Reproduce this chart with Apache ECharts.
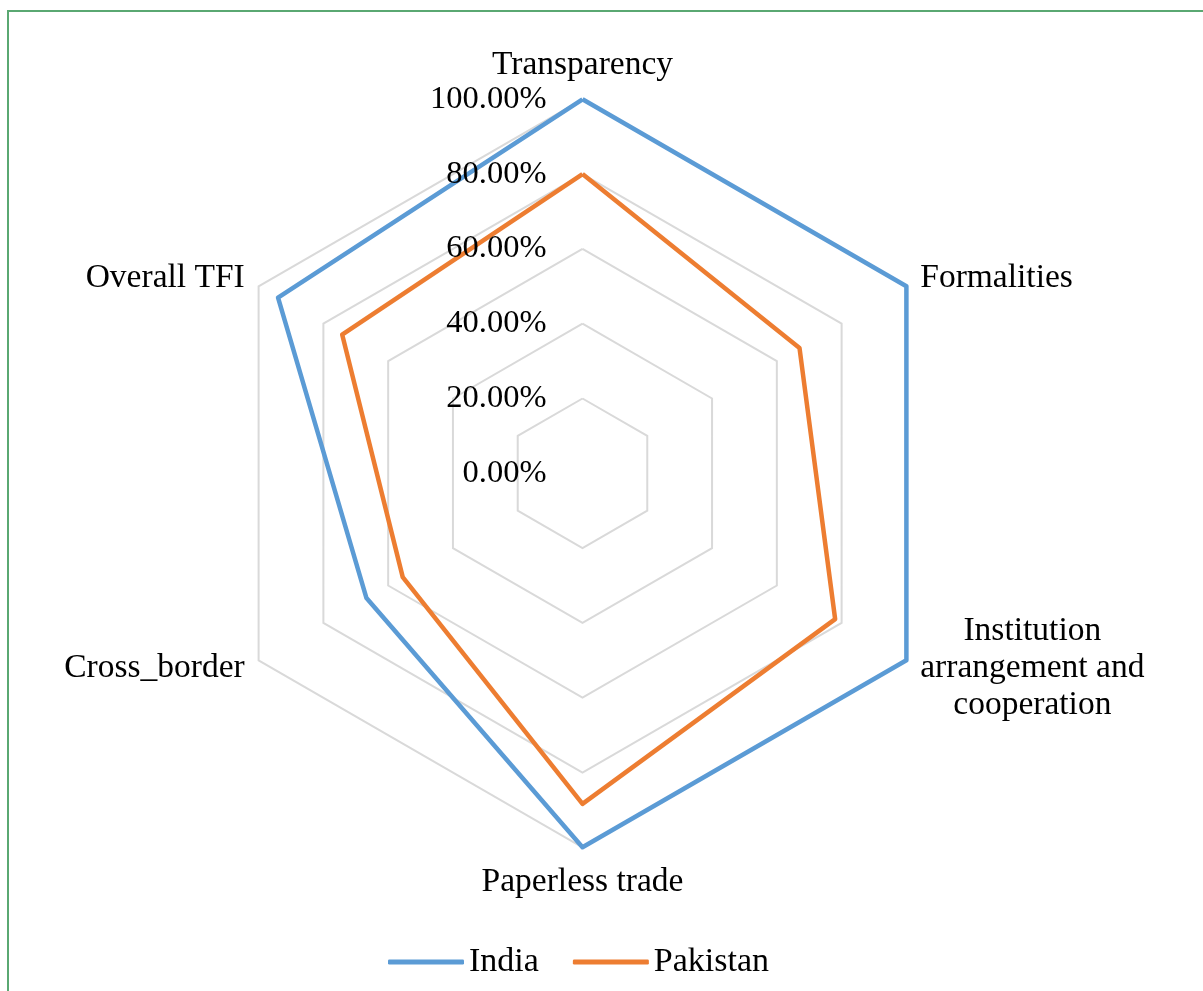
<!DOCTYPE html>
<html>
<head>
<meta charset="utf-8">
<script src="https://cdn.jsdelivr.net/npm/echarts@6/dist/echarts.min.js"></script>
<style>
  html, body { margin: 0; padding: 0; background: #ffffff; }
  #chart { width: 1203px; height: 991px; position: absolute; left: 0; top: 0; }
  #frame {
    position: absolute; left: 7px; top: 10px; width: 1300px; height: 1100px;
    border-left: 2px solid #5aa872; border-top: 2px solid #5aa872;
    pointer-events: none;
  }
</style>
</head>
<body>
<div id="chart"></div>
<div id="frame"></div>
<script>
// Trade facilitation indicator categories, listed clockwise from the top
const categories = [
  'Transparency',
  'Formalities',
  'Institution\narrangement and\ncooperation',
  'Paperless trade',
  'Cross_border',
  'Overall TFI'
];

// Scores (share of the maximum) in the same order as categories
const india    = [1.00, 1.00, 1.00, 1.00, 0.667, 0.94];
const pakistan = [0.80, 0.67, 0.78, 0.884, 0.555, 0.742];

// Scale ticks shown along the vertical spoke
const tickValues = [0, 0.2, 0.4, 0.6, 0.8, 1.0];

const seriesNames = ['India', 'Pakistan'];
const seriesColors = ['#5B9BD5', '#ED7D31'];

// ECharts lays radar indicators out counter-clockwise, so walk the list backwards after the first
const order = [0].concat(categories.map((_, i) => i).slice(1).reverse());
const pick = arr => order.map(i => arr[i]);

const FONT = '"Liberation Serif", "Times New Roman", serif';
const CX = 582.5, CY = 473.3, R = 374;

const chart = echarts.init(document.getElementById('chart'), null, { renderer: 'canvas' });

chart.setOption({
  animation: false,
  backgroundColor: '#ffffff',
  legend: {
    data: seriesNames,
    left: 383,
    top: 940,
    icon: 'roundRect',
    itemWidth: 76,
    itemHeight: 5,
    itemGap: 34,
    textStyle: { fontFamily: FONT, fontSize: 34, color: '#000', padding: [0, 0, 0, 0] }
  },
  radar: {
    center: [CX, CY],
    radius: R,
    shape: 'polygon',
    splitNumber: 5,
    startAngle: 90,
    indicator: pick(categories).map(name => ({ name: name, min: 0, max: 1 })),
    nameGap: 16,
    axisName: {
      color: '#000',
      fontFamily: FONT,
      fontSize: 33.5,
      lineHeight: 37,
      formatter: name => name.split('\n').map(l => '{c|' + l + '}').join('\n'),
      rich: {
        c: { align: 'center', fontFamily: FONT, fontSize: 33.5, lineHeight: 37, color: '#000' }
      }
    },
    axisLine: { show: false },
    axisTick: { show: false },
    axisLabel: { show: false },
    splitArea: { show: false },
    splitLine: { lineStyle: { color: '#d9d9d9', width: 2 } }
  },
  // A hidden grid lined up with the top spoke carries the percentage scale
  grid: { left: CX, top: CY - R, width: 1, height: R, containLabel: false },
  xAxis: { type: 'value', show: false, min: 0, max: 1 },
  yAxis: {
    type: 'value',
    min: 0,
    max: 1,
    interval: 0.2,
    z: 10,
    axisLine: { show: false },
    axisTick: { show: false },
    splitLine: { show: false },
    axisLabel: {
      margin: 36,
      fontFamily: FONT,
      fontSize: 32.5,
      color: '#000',
      customValues: tickValues,
      formatter: v => (v * 100).toFixed(2) + '%'
    }
  },
  series: [{
    type: 'radar',
    symbol: 'none',
    z: 2,
    data: [
      { name: seriesNames[0], value: pick(india),
        lineStyle: { color: seriesColors[0], width: 4.5 }, itemStyle: { color: seriesColors[0] } },
      { name: seriesNames[1], value: pick(pakistan),
        lineStyle: { color: seriesColors[1], width: 4.5 }, itemStyle: { color: seriesColors[1] } }
    ]
  }]
});
</script>
</body>
</html>
